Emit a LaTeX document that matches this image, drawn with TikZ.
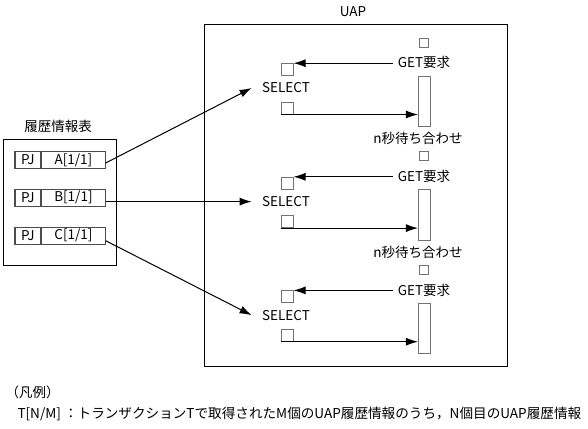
\documentclass[tikz,border=0pt]{standalone}
\usepackage{fontspec}
\setmainfont{Noto Sans CJK JP}
\usetikzlibrary{arrows.meta,positioning,calc}
\tikzset{>={Latex[length=12pt,width=8pt]}}

\tikzset{
  frame/.style={draw, line width=1pt},
  box/.style={draw=black!55, line width=1pt, inner sep=0pt},
  smallsq/.style={box, minimum size=9pt},
  sq/.style={box, minimum size=12pt},
  waitbar/.style={box, minimum width=12.5pt, minimum height=50.5pt},
  cell/.style={draw=black!70, line width=1.1pt, minimum height=16.7pt, inner sep=0pt},
  lbl/.style={inner sep=0pt},
  getlbl/.style={inner sep=0pt, inner xsep=4pt},
  sellbl/.style={inner sep=0pt, inner xsep=10pt},
}

\begin{document}
\begin{tikzpicture}[x=1pt, y=-1pt, font=\fontsize{13.5}{15}\selectfont, line width=1pt]
	\useasboundingbox (0,0) rectangle (588,428);

	% UAP frame
	\node[lbl] (uapname) at (353,12) {UAP};
	\draw[frame] (204,25) rectangle (507,366);

	% history table
	\node[lbl] (tabname) at (58,126) {履歴情報表};
	\draw[frame] (3.5,139) rectangle (116.7,265.7);
	\foreach \r/\y in {A/160, B/197.7, C/235.7} {
		\node[cell, minimum width=25.7pt] (pj\r) at (27.85,\y) {PJ};
		\node[cell, minimum width=63.3pt, right=0pt of pj\r] (row\r) {\r[1/1]};
	}

	% SELECT groups
	\foreach \i/\y in {1/0, 2/113.6, 3/227.2} {
		\node[smallsq] (top\i) at (424,42.8+\y) {};
		\node[getlbl] (get\i) at (424,62.7+\y) {GET要求};
		\node[sq] (sqa\i) at (287,69.7+\y) {};
		\node[sellbl] (sel\i) at (286,88+\y) {SELECT};
		\node[sq] (sqb\i) at (287,108+\y) {};
		\node[waitbar] (bar\i) at (424.7,101.3+\y) {};
		\draw[->] (sqa\i.north east -| get\i.west) -- (sqa\i.north east);
		\draw[->] (sqb\i.south west) -- (sqb\i.south west -| bar\i.west);
	}
	\node[lbl] (wait1) at (418,138.3) {n秒待ち合わせ};
	\node[lbl] (wait2) at (418,251.9) {n秒待ち合わせ};

	% history entries to SELECT
	\draw[->] ([yshift=-3pt]rowA.east) -- (sel1.west);
	\draw[->] (rowB.east |- sel2.west) -- (sel2.west);
	\draw[->] ([yshift=-5pt]rowC.east) -- (sel3.west);

	% legend
	\node[lbl, anchor=west] (legend) at (5,392) {（凡例）};
	\node[lbl, anchor=west, font=\fontsize{13.6}{16}\selectfont] (legendtext) at (17,414) {T[N/M] ：トランザクションTで取得されたM個のUAP履歴情報のうち，N個目のUAP履歴情報};
\end{tikzpicture}
\end{document}
